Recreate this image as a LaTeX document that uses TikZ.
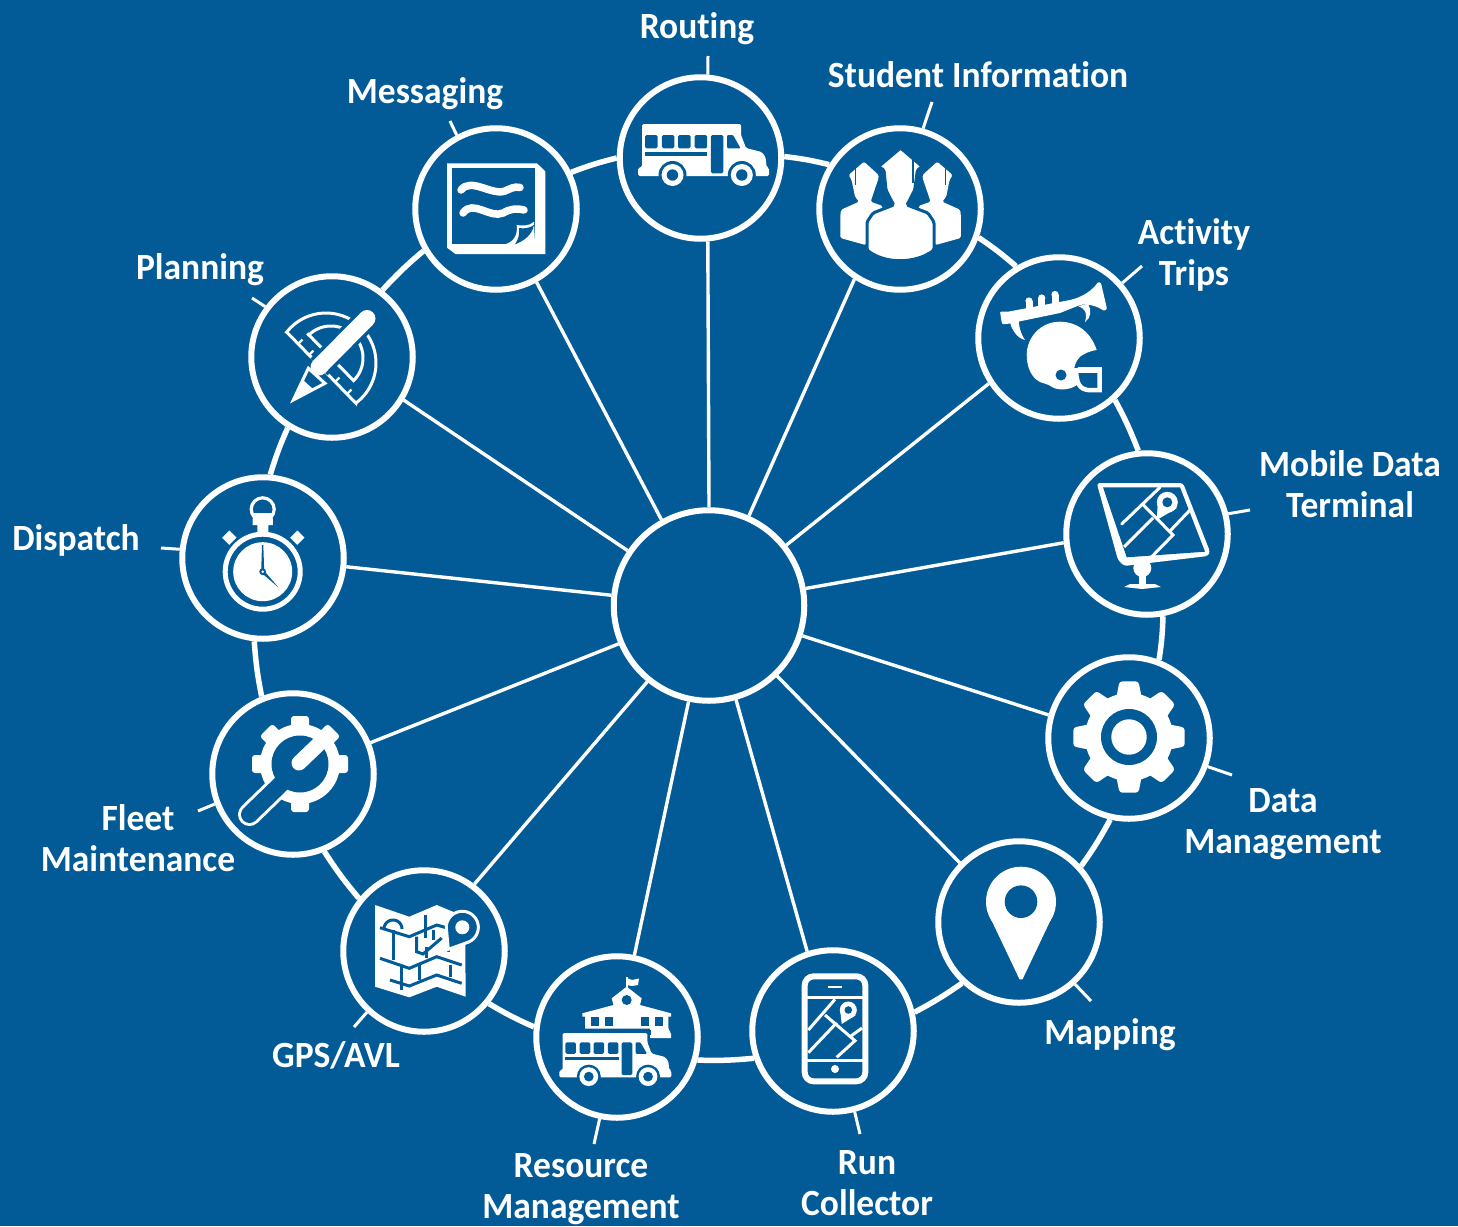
\documentclass[tikz,border=0pt]{standalone}
\usepackage{fontspec}
\setmainfont[FakeStretch=0.96,RawFeature={-liga;-dlig;-clig}]{Carlito}
\definecolor{bg}{HTML}{025B97}
\newcommand{\busicon}{%
  \fill[white,rounded corners=1.5] (0,52) -- (0,44) -- (4,43) -- (4,0) -- (103,0) -- (103,11) -- (108,24) -- (123.6,28) -- (127.5,33) -- (128.6,43) -- (131,44) -- (131,52) -- cycle;
  \foreach \wx in {7,23.8,40,56.7}{\fill[bg,rounded corners=1.5] (\wx,11) rectangle ++(12.5,13.3);}
  \fill[bg] (7,27.7) rectangle (69.3,32);
  \fill[bg,rounded corners=1.5] (72.8,11) rectangle (85.4,49.3);
  \fill[bg,rounded corners=1] (89.2,11) -- (95,11) -- (102.6,24.3) -- (89.2,24.3) -- cycle;
  \foreach \wx in {34.5,103.8}{
    \fill[bg] (\wx,51) circle (14);
    \fill[white] (\wx,51) circle (11);
    \fill[bg] (\wx,51) circle (5.7);
  }}
\tikzset{
  stationring/.style={circle,draw=white,line width=6,minimum size=161.5,inner sep=0},
  hubring/.style={circle,draw=white,line width=6,minimum size=190.5,inner sep=0},
  spoke/.style={draw=white,line width=3.4},
  rim/.style={draw=white,line width=5.5},
  tick/.style={draw=white,line width=3},
  lab/.style={text=white,align=center,inner sep=0,font=\fontsize{37}{41}\selectfont\bfseries},
  wl/.style={draw=white,line width=3,line join=miter},
  bl/.style={draw=bg,line width=3},
}
\begin{document}
\begin{tikzpicture}[x=1pt,y=-1pt]
\fill[bg] (0,0) rectangle (1458,1226);
\useasboundingbox (0,0) rectangle (1458,1226);
% stations
\node[hubring] (hub) at (709,605.5) {};
\node[stationring] (routing) at (700.5,158) {};
\node[stationring] (student) at (900,209) {};
\node[stationring] (activity) at (1059,338) {};
\node[stationring] (mobile) at (1147,534) {};
\node[stationring] (data) at (1129,738) {};
\node[stationring] (mapping) at (1019,922) {};
\node[stationring] (run) at (833,1031) {};
\node[stationring] (resource) at (617,1037) {};
\node[stationring] (gps) at (424,951) {};
\node[stationring] (fleet) at (293,774) {};
\node[stationring] (dispatch) at (263,558) {};
\node[stationring] (planning) at (332,357) {};
\node[stationring] (messaging) at (496,209) {};
% spokes
\draw[spoke] (hub.90) -- (routing.275);
\draw[spoke] (hub.66) -- (student.237.5);
\draw[spoke] (hub.38) -- (activity.213.7);
\draw[spoke] (hub.10) -- (mobile.186);
\draw[spoke] (hub.-18.4) -- (data.164.5);
\draw[spoke] (hub.-46.6) -- (mapping.135.5);
\draw[spoke] (hub.-74.7) -- (run.108);
\draw[spoke] (hub.-102.5) -- (resource.78);
\draw[spoke] (hub.-129.6) -- (gps.53);
\draw[spoke] (hub.-157.4) -- (fleet.22);
\draw[spoke] (hub.174) -- (dispatch.-6.3);
\draw[spoke] (hub.146) -- (planning.-31.8);
\draw[spoke] (hub.119) -- (messaging.-61.6);
% rim
\draw[rim] (routing.1.4) to[bend left=3.5] (student.148.3);
\draw[rim] (student.-20.4) to[bend left=3.5] (activity.121.6);
\draw[rim] (activity.-48.4) to[bend left=3.5] (mobile.96.3);
\draw[rim] (mobile.-79.6) to[bend left=3.5] (data.69);
\draw[rim] (data.-103) to[bend left=3.5] (mapping.42);
\draw[rim] (mapping.-133) to[bend left=3.5] (run.13);
\draw[rim] (run.-161) to[bend left=3.5] (resource.-16);
\draw[rim] (resource.173) to[bend left=3.5] (gps.-39);
\draw[rim] (gps.141) to[bend left=3.5] (fleet.-68);
\draw[rim] (fleet.112) to[bend left=3.5] (dispatch.-96);
\draw[rim] (dispatch.85) to[bend left=3.5] (planning.238);
\draw[rim] (planning.53) to[bend left=3.5] (messaging.210);
\draw[rim] (messaging.26.6) to[bend left=3.5] (routing.180);
% label ticks
\coordinate (tRouting) at (708,56);
\coordinate (tStudent) at (932,102);
\coordinate (tActivity) at (1142,266);
\coordinate (tMobile) at (1250,510);
\coordinate (tData) at (1232,775);
\coordinate (tMapping) at (1091,1001);
\coordinate (tRun) at (860,1134);
\coordinate (tResource) at (594,1144);
\coordinate (tGps) at (354,1027);
\coordinate (tFleet) at (198,811);
\coordinate (tDispatch) at (161,548);
\coordinate (tPlanning) at (252,298);
\coordinate (tMessaging) at (450,121);
\draw[tick] (routing.85) -- (tRouting);
\draw[tick] (student.74.8) -- (tStudent);
\draw[tick] (activity.41.6) -- (tActivity);
\draw[tick] (mobile.14) -- (tMobile);
\draw[tick] (data.-20) -- (tData);
\draw[tick] (mapping.-48) -- (tMapping);
\draw[tick] (run.-75.5) -- (tRun);
\draw[tick] (resource.-102) -- (tResource);
\draw[tick] (gps.-133) -- (tGps);
\draw[tick] (fleet.-159) -- (tFleet);
\draw[tick] (dispatch.174) -- (tDispatch);
\draw[tick] (planning.143) -- (tPlanning);
\draw[tick] (messaging.118) -- (tMessaging);
% labels
\node[lab] (lRouting) at (697,29) {Routing};
\node[lab] (lStudent) at (978,75) {Student Information};
\node[lab] (lActivity) at (1194,255) {Activity\\Trips};
\node[lab] (lMobile) at (1350,484.5) {Mobile Data\\Terminal};
\node[lab] (lData) at (1283,824.5) {Data\\Management};
\node[lab] (lMapping) at (1110,1035) {Mapping};
\node[lab] (lRun) at (867,1183.5) {Run\\Collector};
\node[lab] (lResource) at (581,1189) {Resource\\Management};
\node[lab] (lGps) at (336,1055) {GPS/AVL};
\node[lab] (lFleet) at (138,838.5) {Fleet\\Maintenance};
\node[lab] (lDispatch) at (76,540) {Dispatch};
\node[lab] (lPlanning) at (200,270) {Planning};
\node[lab] (lMessaging) at (425,94) {Messaging};
% ---- Routing bus
\begin{scope}[shift={(638,124)}]\busicon\end{scope}
% ---- Student
\begin{scope}
\foreach \sgn in {-1,1}{
 \begin{scope}[shift={(900.6,0)},xscale=\sgn]
 \fill[white,rounded corners=1.5] (36.6,161.7) -- (52,175) -- (49,180) -- (45.6,196.7) -- (41.6,201.7) -- (59.4,209.7) -- (60.2,214) -- (60.2,238) -- (35,245) -- (20,230) -- (18,206) -- (30,201.7) -- (22,178) -- (22,175) -- cycle;
 \draw[bg,line width=1.3] (45,168) -- (45,185);
 \end{scope}}
\fill[white,draw=bg,line width=3,rounded corners=1.5] (900.6,148) -- (922.4,166.7) -- (917.4,170) -- (914.7,190) -- (907,205) -- (928,213) -- (934,222) -- (934,250) .. controls (915,264) and (885,264) .. (867,250) -- (867,222) -- (873,213) -- (893.6,205) -- (886,190) -- (884,170) -- (878.4,166.7) -- cycle;
\draw[bg,line width=1.6] (913,160) -- (913,183);
\end{scope}
% ---- Messaging
\fill[white] (447,163.3) -- (537,163.3) -- (545.4,171.5) -- (545.4,254) -- (455.5,254) -- (447,247.7) -- cycle;
\fill[bg] (451.7,168.3) rectangle (535,244.3);
\fill[white] (516.7,225) .. controls (522,226) and (530,226) .. (534,221.7) -- (535,244.3) -- (505,244.3) .. controls (513,242) and (518,236) .. (516.7,225) -- cycle;
\fill[bg] (519,228) .. controls (524,229) and (530,228) .. (534,225) .. controls (532,235) and (524,241) .. (515,244.3) .. controls (518,240) and (520,234) .. (519,228) -- cycle;
\draw[white,line width=7.5,line cap=round] (461,190) .. controls (471,177) and (492,196) .. (505,191) .. controls (510,189) and (514,186) .. (520,187.5);
\draw[white,line width=7.5,line cap=round] (463,213) .. controls (473,199) and (490,219) .. (503,213) .. controls (510,209) and (516,208) .. (524,210);
% ---- Activity: trumpet
\fill[white,rounded corners=1] (1000,311.7) -- (1008,311.7) -- (1070,300) .. controls (1082,297) and (1092,291) .. (1098,282) -- (1101,283) -- (1107,309) -- (1104,311) .. controls (1096,305) and (1086,304) .. (1080,305) -- (1060,313) -- (1007,324) -- (1002,324) -- cycle;
\foreach \vx/\vy in {1029/306,1041.7/303,1055/299.5}{\fill[white] (\vx-3.5,\vy-5) rectangle ++(7,16); \fill[white] (\vx,\vy-5) circle (3.6);}
\fill[white] (1009,318) .. controls (1011,330) and (1017,338) .. (1025,340) .. controls (1021,334) and (1018,326) .. (1019,316) -- cycle;
\fill[white] (1078,306) .. controls (1084,308) and (1088,312) .. (1085,322) .. controls (1091,318) and (1092,310) .. (1088,304) -- cycle;
% helmet
\fill[white] (1096.7,350) .. controls (1090,330) and (1075,321.7) .. (1060,321.7) .. controls (1040,321.7) and (1026.7,338) .. (1026.7,355) .. controls (1026.7,368) and (1032,378) .. (1040,382) .. controls (1045,384) and (1048,384) .. (1052,387) .. controls (1058,391) and (1072,390) .. (1078,384) .. controls (1073,376) and (1072,365) .. (1080,356.7) .. controls (1085,353) and (1090,351) .. (1096.7,350) -- cycle;
\fill[bg] (1061,375) circle (5.5);
\fill[white] (1078,366.7) rectangle (1102,373);
\draw[white,line width=4.5] (1099.5,369) -- (1099.5,390) -- (1088,390) .. controls (1080,389) and (1076,384) .. (1076,368);
% ---- Mobile data terminal
\fill[white,rounded corners=3] (1096.7,483) -- (1183,483) -- (1210,551.7) -- (1208,556) -- (1124,566) -- (1118,560) -- cycle;
\fill[bg] (1103,487.3) -- (1180,487.3) -- (1205,551.7) -- (1126.7,557.3) -- cycle;
\fill[white] (1142.3,568) circle (9);
\fill[white] (1139,570) rectangle (1146,585);
\fill[white] (1124,587) -- (1130,584) -- (1155,584) -- (1161,587) -- (1142,589) -- cycle;
\draw[wl,line cap=round] (1121.7,524) -- (1160,487.3);
\draw[wl] (1124,547) -- (1153,518);
\draw[wl] (1141.7,503.3) -- (1173,535) -- (1151.7,556.7);
\draw[wl] (1170,531) -- (1190,510);
\fill[white] (1156.7,520) -- (1158,500) -- (1177,508) -- cycle;
\fill[white] (1167.3,502.3) circle (10.5);
\fill[bg] (1167.3,502.3) circle (5);
% ---- Data gear
\begin{scope}[shift={(1129,737)}]
\fill[white] (0,0) circle (44);
\foreach \a in {0,45,...,315}{\fill[white,rounded corners=3,rotate=\a] (-13,38) -- (-9.5,55.7) -- (9.5,55.7) -- (13,38) -- cycle;}
\fill[bg] (0,0) circle (28);
\fill[white] (0,0) circle (17.7);
\end{scope}
% ---- Mapping pin
\fill[white] (1021,979.3) -- (1022.5,979.3) -- (1053,915) -- (989,915) -- (1019.5,979.3) -- cycle;
\fill[white] (1021,901.7) circle (35);
\fill[bg] (1021,901.7) circle (16.3);
% ---- Run collector phone
\draw[white,line width=6,rounded corners=9] (804.7,976.3) rectangle (865.3,1081.3);
\draw[white,line width=1.8] (827.7,987.3) -- (842.3,987.3);
\draw[white,line width=3] (804.7,997.5) -- (865.3,997.5);
\draw[white,line width=3] (804.7,1060) -- (865.3,1060);
\fill[white] (835,1069) circle (4);
\draw[wl] (808.3,1030) -- (835,999.3);
\draw[wl] (808.3,1052.7) -- (836.7,1022.7);
\draw[wl] (825,1015) -- (855,1040.7) -- (836.7,1057.3);
\draw[wl] (851,1036) -- (862,1028);
\fill[white] (841.7,1024) -- (840,1008) -- (856,1015) -- cycle;
\fill[white] (848.3,1010) circle (8.5);
\fill[bg] (848.3,1010) circle (3.8);
% ---- Resource: school + bus
\fill[white] (626,976.7) rectangle (628,990);
\fill[white] (627,978) -- (632,980) -- (639,978.5) -- (638,985) -- (632,986) -- (627,985) -- cycle;
\fill[white] (626.7,986.7) -- (641.7,998.3) -- (640,1005) -- (671,1013.3) -- (671,1016.5) -- (668.3,1016.5) -- (668.3,1028) -- (671,1034) -- (671,1038) -- (650,1038) -- (650,1028.5) -- (585,1028.5) -- (585,1016.5) -- (582.3,1016.5) -- (582.3,1013.3) -- (613.5,1005) -- (611.7,998.3) -- cycle;
\fill[bg] (626.7,1000) circle (5);
\foreach \wx in {590.7,605,640.7,655}{\fill[bg] (\wx,1017.3) rectangle ++(8.3,8.4);}
\fill[bg] (559,1029.5) rectangle (650.5,1035);
\begin{scope}[shift={(559.3,1033)},scale=0.855]\busicon\end{scope}
% ---- GPS map
\fill[white] (375,905) -- (409.3,916.7) -- (436.7,905) -- (465,916.7) -- (465.7,996.7) -- (436.7,986.7) -- (409.3,997.3) -- (375,986.7) -- cycle;
\draw[bl] (380,927.7) -- (409.3,936.7) -- (436.7,925) -- (448.3,928.3);
\draw[bl] (380,958.3) -- (409.3,968.3) -- (436.7,956.7) -- (461.7,965);
\draw[bl] (390,980) -- (409.3,986) -- (436.7,975) -- (461.7,983.3);
\draw[bl] (393.3,930) -- (393.3,960);
\draw[bl] (401,965) -- (401,990);
\draw[bl] (419,965) -- (419,980);
\draw[bl] (425,915) -- (425,938);
\draw[bl] (416.7,936.7) -- (416.7,951.7) -- (423,954) -- (441.7,938);
\draw[bl] (426.7,947) -- (426.7,958);
\draw[bl] (433,930) -- (433,940);
\draw[bl] (448.3,930) -- (448.3,952);
\draw[bl] (450,965) -- (450,977);
\draw[bl] plot[domain=180:360,samples=30,variable=\t] ({393+9*cos(\t)},{929+9*sin(\t)});
\fill[bg,draw=white,line width=3] (448.3,949.3) -- plot[domain=170:430,samples=50,variable=\t] ({462.3+16*cos(\t)},{927.3+16*sin(\t)}) -- cycle;
\fill[white] (462.3,927.3) circle (7);
% ---- Fleet gear + wrench
\begin{scope}[shift={(300,764)}]
\fill[white] (0,0) circle (40);
\foreach \a in {0,45,...,315}{\ifnum\a=45\else\fill[white,rounded corners=3,rotate=\a] (-9,34) -- (-9,48) -- (9,48) -- (9,34) -- cycle;\fi}
\end{scope}
\draw[white,line width=23,line cap=round] (283,782) -- (249.5,814.5);
\fill[bg] (300,764) circle (28.5);
\draw[bg,line width=17,line cap=round] (283,782) -- (249.5,814.5);
\draw[white,line width=15,line cap=round] (299,763) -- (322,741);
% ---- Planning
\draw[wl] (287.3,332.7) -- (356,403.3) -- plot[domain=53:-142,samples=50,variable=\t] ({326+50*cos(\t)},{363+50*sin(\t)}) -- cycle;
\draw[wl] (307.3,333.3) -- (353,380) -- plot[domain=45:-134,samples=50,variable=\t] ({331+32*cos(\t)},{358+32*sin(\t)}) -- cycle;
\foreach \tx/\ty in {298/344,309/355,335/382,347/394}{\draw[white,line width=2.4] (\tx,\ty) -- ++(4.5,-4.5);}
\draw[bg,line width=24] (367,318.5) -- (319,367);
\fill[bg,draw=white,line width=3,line join=miter] (293.3,400) -- (308.3,368.3) -- (325,383.3) -- cycle;
\fill[white] (293.3,400) -- (303,380) -- (313,389) -- cycle;
\draw[white,line width=17,line cap=round] (367,318.5) -- (319,367);
% ---- Dispatch stopwatch
\draw[white,line width=5] (262.7,571.7) circle (37.5);
\fill[white] (262.7,571.7) circle (29.5);
\draw[white,line width=3.2] (262.7,509.3) circle (11.5);
\fill[white] (253,513) -- (272.5,513) -- (273,525) -- (268.3,525) -- (268.3,533) -- (257.3,533) -- (257.3,525) -- (252.5,525) -- cycle;
\fill[white] (229.3,530.5) -- (236.5,537.7) -- (229.3,544.9) -- (222.1,537.7) -- cycle;
\fill[white] (297.3,530.5) -- (304.5,537.7) -- (297.3,544.9) -- (290.1,537.7) -- cycle;
\fill[bg] (262,545) -- (263.3,545) -- (264.2,571) -- (261.2,571) -- cycle;
\fill[bg] (261,572.5) -- (263.5,570) -- (278.3,587.3) -- cycle;
\fill[bg] (262.7,571.7) circle (3.4);
\fill[white] (262.7,571.7) circle (1.4);
\end{tikzpicture}
\end{document}
